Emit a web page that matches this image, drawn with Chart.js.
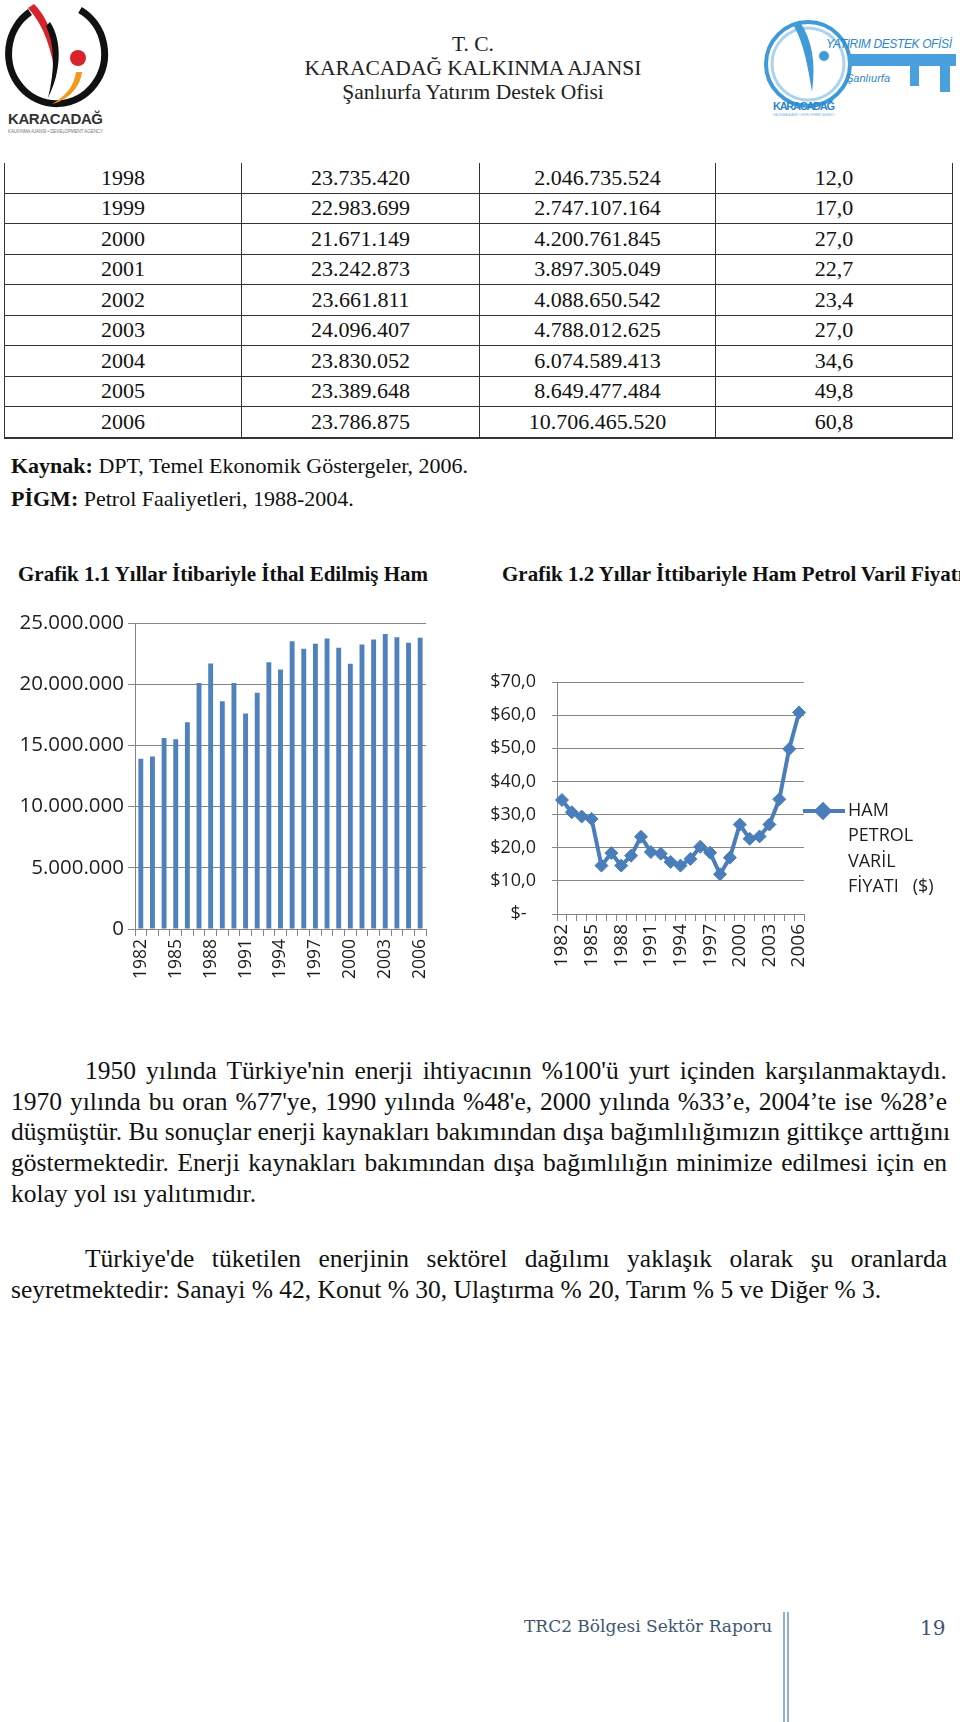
<!DOCTYPE html>
<html lang="tr">
<head>
<meta charset="utf-8">
<script src="https://cdn.jsdelivr.net/npm/chart.js@4.4.1/dist/chart.umd.min.js"></script>
<style>
html,body{margin:0;padding:0;background:#fff;}
body{width:960px;height:1722px;position:relative;overflow:hidden;font-family:"Liberation Serif","Times New Roman",serif;color:#111;}
.abs{position:absolute;}
.hdr{left:0;width:946px;text-align:center;font-size:21.5px;line-height:24px;color:#222;}
table.data{position:absolute;left:4px;top:163px;border-collapse:collapse;font-size:22px;}
table.data td{height:29.5px;padding:0;text-align:center;border-left:1px solid #333;border-right:1px solid #333;border-bottom:1px solid #333;}
table.data tr:last-child td{border-bottom:2px solid #333;}
.src{left:11px;font-size:22px;line-height:24px;white-space:nowrap;}
.ttl{font-size:21px;font-weight:bold;white-space:nowrap;line-height:24px;}
.para{left:11px;width:936px;font-size:25.5px;line-height:30.7px;}
.para div{text-align:justify;text-align-last:justify;white-space:nowrap;}
.para div.last{text-align-last:left;}
.chartbox{position:absolute;}
.foot{font-family:"DejaVu Serif",serif;color:#3f5672;font-size:17px;}
</style>
</head>
<body>

<!-- left logo -->
<svg class="abs" style="left:0;top:0" width="115" height="140" viewBox="0 0 115 140">
  <path d="M30 12 A48 50 0 1 0 80 10" fill="none" stroke="#111" stroke-width="7"/>
  <path d="M34 4 C50 20 58 45 56 80 C52 50 44 25 28 8 Z" fill="#d8232a"/>
  <path d="M50 22 C62 40 62 70 48 98 C55 70 55 45 46 26 Z" fill="#111"/>
  <circle cx="78" cy="58" r="8" fill="#d8232a"/>
  <path d="M82 72 C80 88 68 100 52 104 C66 96 74 86 76 72 Z" fill="#f29a1f"/>
  <text x="8" y="124" font-family="Liberation Sans, Arial" font-weight="bold" font-size="15" fill="#333" textLength="95">KARACADAĞ</text>
  <text x="8" y="133" font-family="Liberation Sans, Arial" font-size="4.5" fill="#777" textLength="95">KALKINMA AJANSI • DEVELOPMENT AGENCY</text>
</svg>

<div class="abs hdr" style="top:32px">T. C.</div>
<div class="abs hdr" style="top:56px">KARACADAĞ KALKINMA AJANSI</div>
<div class="abs hdr" style="top:80px">Şanlıurfa Yatırım Destek Ofisi</div>

<!-- right logo -->
<svg class="abs" style="left:760px;top:12px" width="200" height="115" viewBox="0 0 200 115">
  <circle cx="48" cy="52" r="42" fill="none" stroke="#3f9ad8" stroke-width="4"/>
  <circle cx="48" cy="52" r="36" fill="none" stroke="#a9d3f0" stroke-width="3"/>
  <path d="M40 10 C52 28 56 50 52 80 C48 55 44 32 34 14 Z" fill="#3f9ad8"/>
  <circle cx="64" cy="44" r="5" fill="#3f9ad8"/>
  <rect x="88" y="42" width="108" height="12" fill="#4aa0dc"/>
  <rect x="150" y="48" width="9" height="26" fill="#4aa0dc"/>
  <rect x="180" y="48" width="10" height="32" fill="#4aa0dc"/>
  <text x="66" y="36" font-family="Liberation Sans, Arial" font-style="italic" font-size="12" fill="#2f86c9" textLength="126">YATIRIM DESTEK OFİSİ</text>
  <text x="86" y="70" font-family="Liberation Sans, Arial" font-style="italic" font-size="11" fill="#2f86c9">Şanlıurfa</text>
  <text x="13" y="98" font-family="Liberation Sans, Arial" font-weight="bold" font-size="11" fill="#2f86c9" textLength="62">KARACADAĞ</text>
  <text x="13" y="104" font-family="Liberation Sans, Arial" font-size="3" fill="#7bb4e0" textLength="62">KALKINMA AJANSI • DEVELOPMENT AGENCY</text>
</svg>

<table class="data">
  <colgroup><col style="width:237px"><col style="width:238px"><col style="width:236px"><col style="width:237px"></colgroup>
  <tbody id="tbl"></tbody>
</table>

<div class="abs src" style="top:454px"><b>Kaynak:</b> DPT, Temel Ekonomik Göstergeler, 2006.</div>
<div class="abs src" style="top:487px"><b>PİGM:</b> Petrol Faaliyetleri, 1988-2004.</div>

<div class="abs ttl" style="left:18px;top:562px">Grafik 1.1 Yıllar İtibariyle İthal Edilmiş Ham</div>
<div class="abs ttl" style="left:502px;top:562px">Grafik 1.2 Yıllar İttibariyle Ham Petrol Varil Fiyatı</div>

<div class="chartbox" style="left:0;top:592px;width:470px;height:420px"><canvas id="importChart" width="470" height="420"></canvas></div>
<div class="chartbox" style="left:470px;top:590px;width:490px;height:420px"><canvas id="priceChart" width="490" height="420"></canvas></div>

<div class="abs para" style="top:1056px">
  <div style="padding-left:74px">1950 yılında Türkiye'nin enerji ihtiyacının %100'ü yurt içinden karşılanmaktaydı.</div>
  <div>1970 yılında bu oran %77'ye, 1990 yılında %48'e, 2000 yılında %33’e, 2004’te ise %28’e</div>
  <div>düşmüştür. Bu sonuçlar enerji kaynakları bakımından dışa bağımlılığımızın gittikçe arttığını</div>
  <div>göstermektedir. Enerji kaynakları bakımından dışa bağımlılığın minimize edilmesi için en</div>
  <div class="last">kolay yol ısı yalıtımıdır.</div>
</div>
<div class="abs para" style="top:1244px">
  <div style="padding-left:74px">Türkiye'de tüketilen enerjinin sektörel dağılımı yaklaşık olarak şu oranlarda</div>
  <div class="last">seyretmektedir: Sanayi % 42, Konut % 30, Ulaştırma % 20, Tarım % 5 ve Diğer % 3.</div>
</div>

<div class="abs foot" style="left:524px;top:1616px">TRC2 Bölgesi Sektör Raporu</div>
<div class="abs" style="left:783px;top:1612px;width:2px;height:110px;border-left:2px solid #8fb0d6;border-right:2px solid #8fb0d6;"></div>
<div class="abs foot" style="left:920px;top:1616px;font-size:20px">19</div>

<script>
// table rows (years 1998-2006)
const tblYears = ['1998','1999','2000','2001','2002','2003','2004','2005','2006'];
const tblQty = ['23.735.420','22.983.699','21.671.149','23.242.873','23.661.811','24.096.407','23.830.052','23.389.648','23.786.875'];
const tblCost = ['2.046.735.524','2.747.107.164','4.200.761.845','3.897.305.049','4.088.650.542','4.788.012.625','6.074.589.413','8.649.477.484','10.706.465.520'];
const tblPrice = ['12,0','17,0','27,0','22,7','23,4','27,0','34,6','49,8','60,8'];

const tbody = document.getElementById('tbl');
tblYears.forEach((y,i)=>{
  const tr = document.createElement('tr');
  tr.innerHTML = `<td>${y}</td><td>${tblQty[i]}</td><td>${tblCost[i]}</td><td>${tblPrice[i]}</td>`;
  tbody.appendChild(tr);
});

// chart data
const years = ['1982','1983','1984','1985','1986','1987','1988','1989','1990','1991','1992','1993','1994',
  '1995','1996','1997','1998','1999','2000','2001','2002','2003','2004','2005','2006'];
const shownYears = ['1982','1985','1988','1991','1994','1997','2000','2003','2006'];
const importQty = [13900000,14100000,15600000,15500000,16900000,20100000,21700000,18600000,20100000,17600000,
  19300000,21800000,21200000,23500000,22900000,23300000,23735420,22983699,21671149,23242873,23661811,
  24096407,23830052,23389648,23786875];
const oilPrice = [34.4,30.7,29.4,28.7,14.6,18.4,14.6,17.6,23.3,18.7,18.2,15.7,14.6,16.6,20.3,18.5,
  12.0,17.0,27.0,22.7,23.4,27.0,34.6,49.8,60.8];
const priceLegend = ['HAM','PETROL','VARİL','FİYATI   ($)'];

const gridGray = '#868686';
const tickColor = '#1e1e1e';
const sans = '"Open Sans", "Noto Sans", sans-serif';

function yearTick(v,i){ return shownYears.includes(years[i]) ? years[i] : ''; }

// Grafik 1.1
new Chart(document.getElementById('importChart').getContext('2d'),{
  type:'bar',
  data:{labels:years,datasets:[{data:importQty,backgroundColor:'#4F81BD',borderWidth:0,barPercentage:0.42,categoryPercentage:1}]},
  options:{
    responsive:false,animation:false,
    layout:{padding:{top:31,right:44,left:0,bottom:0}},
    plugins:{legend:{display:false},tooltip:{enabled:false}},
    scales:{
      x:{
        grid:{drawOnChartArea:false,color:gridGray,tickLength:7,offset:true},
        border:{color:gridGray},
        ticks:{autoSkip:false,minRotation:90,maxRotation:90,padding:3,color:tickColor,font:{family:sans,size:17.5},callback:yearTick},
        afterFit:s=>{s.height=83;}
      },
      y:{
        min:0,max:25000000,
        grid:{color:gridGray,tickLength:7},
        border:{color:gridGray},
        ticks:{stepSize:5000000,padding:4,color:tickColor,font:{family:sans,size:20.5},
          callback:v=>v.toLocaleString('de-DE')},
        afterFit:s=>{s.width=135;}
      }
    }
  }
});

// legend drawn at the right of the plot, text split over lines as in the original
const sideLegend = {
  id:'sideLegend',
  afterDraw(chart){
    const {ctx,chartArea} = chart;
    const ds = chart.data.datasets[0];
    const y0 = chartArea.top + 129;
    const x0 = chartArea.right - 1;
    ctx.save();
    ctx.strokeStyle = ds.borderColor;
    ctx.lineWidth = 4;
    ctx.beginPath(); ctx.moveTo(x0,y0); ctx.lineTo(x0+42,y0); ctx.stroke();
    Chart.helpers.drawPoint(ctx,{pointStyle:'rectRot',radius:6.5,borderWidth:1},x0+20,y0);
    ctx.fillStyle = ds.borderColor;
    ctx.fill();
    ctx.fillStyle = tickColor;
    ctx.font = '18px ' + sans;
    ctx.textBaseline = 'middle';
    priceLegend.forEach((t,i)=>ctx.fillText(t,x0+45,y0+i*25.3));
    ctx.restore();
  }
};

// Grafik 1.2
new Chart(document.getElementById('priceChart').getContext('2d'),{
  type:'line',
  data:{labels:years,datasets:[{label:priceLegend.join(' '),data:oilPrice,borderColor:'#4A7EBB',backgroundColor:'#4A7EBB',
    borderWidth:4,pointStyle:'rectRot',pointRadius:6.5,pointBorderWidth:1,tension:0}]},
  options:{
    responsive:false,animation:false,
    layout:{padding:{top:92,right:156,left:0,bottom:0}},
    plugins:{legend:{display:false},tooltip:{enabled:false}},
    scales:{
      x:{
        offset:true,
        grid:{drawOnChartArea:false,color:gridGray,tickLength:7,offset:true},
        border:{color:gridGray},
        ticks:{autoSkip:false,minRotation:90,maxRotation:90,padding:3,color:tickColor,font:{family:sans,size:19},callback:yearTick},
        afterFit:s=>{s.height=96;}
      },
      y:{
        min:0,max:70,
        grid:{color:gridGray,tickLength:5},
        border:{color:gridGray},
        ticks:{stepSize:10,padding:16,color:tickColor,font:{family:sans,size:18},
          callback:v=> v===0 ? '$-  ' : '$' + v.toFixed(1).replace('.',',')},
        afterFit:s=>{s.width=87;}
      }
    }
  },
  plugins:[sideLegend]
});
</script>
</body>
</html>
